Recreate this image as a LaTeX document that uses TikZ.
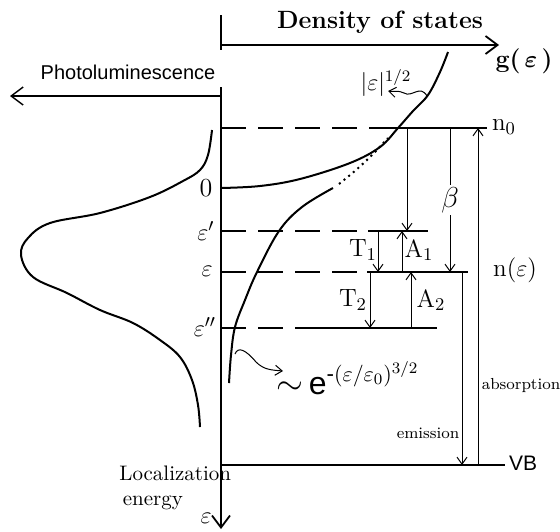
\documentclass[tikz,border=0pt]{standalone}
\usepackage{amsmath,amssymb}
\usepackage{fontspec}
\newfontfamily\sansfam{Liberation Sans}
\usetikzlibrary{arrows.meta}

\tikzset{
  nivel/.style={line width=0.9pt, dash pattern=on 12.5pt off 6pt},
  solido/.style={line width=0.9pt},
  trans/.style={line width=0.5pt, ->},
  curva/.style={line width=1pt},
  ejeflecha/.style={line width=0.9pt, -{Straight Barb[length=6pt,width=9pt]}},
  etq/.style={inner sep=1pt, font=\fontsize{12.5}{14}\selectfont},
  etqs/.style={inner sep=1pt, font=\fontsize{8}{9}\selectfont},
}

\begin{document}
\begin{tikzpicture}[x=0.5pt, y=-0.5pt, >={Straight Barb[length=3.5pt,width=5pt]}]
  \useasboundingbox (0,0) rectangle (560,531);

  % ejes
  \coordinate (ejeTop) at (221,15);
  \coordinate (ejeA) at (221,50);
  \coordinate (ejeB) at (221,87);
  \coordinate (ejeBot) at (221,529);
  \coordinate (dosB) at (499,45);
  \coordinate (plB) at (10,96);
  \draw[solido] (ejeTop) -- (ejeA);
  \draw[ejeflecha] (ejeB) -- (ejeBot);
  \draw[ejeflecha] (ejeTop |- dosB) -- (dosB);
  \draw[ejeflecha, line width=0.7pt] (ejeB |- plB) -- (plB);
  \node[font=\fontsize{12.5}{14}\bfseries] (dos) at (380,22) {Density of states};
  \node[font=\fontsize{12.5}{14}\bfseries] (g) at (524,61) {g(\,$\boldsymbol{\varepsilon}$\,)};
  \node[font=\sansfam\fontsize{10}{12}\selectfont] (pl) at (128,72) {Photoluminescence};
  \node[inner sep=1pt, font=\fontsize{10.5}{12.5}\selectfont, align=left, anchor=west] (loc) at (117,488) {Localization\\ \,energy};
  \node[etq, font=\fontsize{13}{14}\selectfont] (eps) at (206,518) {$\varepsilon$};

  % niveles
  \coordinate (n0L) at (221,128);  \coordinate (n0M) at (370,128);  \coordinate (n0R) at (487,128);
  \coordinate (e1L) at (221,231);  \coordinate (e1M) at (368,231);  \coordinate (e1R) at (428,231);
  \coordinate (e0L) at (221,272);  \coordinate (e0M) at (367,272);  \coordinate (e0R) at (468,272);
  \coordinate (e2L) at (221,328);  \coordinate (e2M) at (320,328);  \coordinate (e2R) at (437,328);
  \coordinate (vbL) at (221,465);  \coordinate (vbR) at (505,465);
  \draw[nivel] (n0L) -- (n0M);  \draw[solido] (n0M) -- (n0R);
  \draw[nivel] (e1L) -- (e1M);  \draw[solido] (e1M) -- (e1R);
  \draw[nivel] (e0L) -- (e0M);  \draw[solido] (e0M) -- (e0R);
  \draw[nivel] (e2L) -- (e2M);  \draw[solido] (e2M) -- (e2R);
  \draw[solido] (vbL) -- (vbR);

  % etiquetas del eje
  \node[etq, font=\fontsize{13}{14}\selectfont] (lz) at (206,188) {0};
  \node[etq, font=\fontsize{13}{14}\selectfont] (l1) at (206,231) {$\varepsilon'$};
  \node[etq, font=\fontsize{13}{14}\selectfont] (l0) at (207,271) {$\varepsilon$};
  \node[etq, font=\fontsize{13}{14}\selectfont] (l2) at (205,327) {$\varepsilon''$};
  \node[etq] (ln0) at (504,127) {n$_0$};
  \node[etq] (lne) at (515,270) {n($\varepsilon$)};
  \node[etq, font=\sansfam\fontsize{10.5}{12}\selectfont] (lvb) at (523,463) {VB};

  % transiciones
  \draw[trans] (407,128) coordinate (a0s) -- (a0s |- e1L);
  \draw[trans] (450,128) coordinate (bs) -- node[fill=white, inner sep=1pt, font=\fontsize{14}{15}\selectfont] (lb) {$\beta$} (bs |- e0L);
  \draw[trans] (478,465) coordinate (abs) -- (abs |- n0L);
  \draw[trans] (462,272) coordinate (ems) -- (ems |- vbL);
  \draw[trans] (378,231) coordinate (t1s) -- (t1s |- e0L);
  \draw[trans] (402,272) coordinate (a1s) -- (a1s |- e1L);
  \draw[trans] (370,272) coordinate (t2s) -- (t2s |- e2L);
  \draw[trans] (411,328) coordinate (a2s) -- (a2s |- e0L);
  \node[etq] (lt1) at (363,250) {T$_1$};
  \node[etq] (la1) at (419,250) {A$_1$};
  \node[etq] (lt2) at (353,300) {T$_2$};
  \node[etq] (la2) at (431,300) {A$_2$};
  \node[etqs] (labs) at (521,385) {absorption};
  \node[etqs] (lem) at (428,433) {emission};

  % densidad de estados
  \draw[curva] plot[smooth, tension=0.6] coordinates {(221,188) (260,186) (300,179) (350,163) (380,147) (398,128) (413,111) (428,95) (440,72) (448,52)};
  \draw[curva] plot[smooth, tension=0.6] coordinates {(229,383) (231,355) (235,327) (245,300) (257,272) (279,231) (302,207) (333,188)};
  \draw[curva, dotted] plot[smooth] coordinates {(339,184) (356,170) (372,155) (388,138)};

  % fotoluminiscencia
  \draw[curva] plot[smooth, tension=0.6] coordinates {(212,130) (208,155) (200,170) (183,181) (150,197) (100,213) (50,223) (28,238) (21,255) (33,277) (67,293) (100,310) (133,323) (160,340) (180,357) (192,380) (198,405) (200,427)};

  % flechas onduladas
  \coordinate (w1s) at (427,96);  \coordinate (w1e) at (388,91);
  \draw[line width=0.5pt, ->] (w1s) .. controls (420,84) and (412,98) .. (404,93) .. controls (398,90) and (394,92) .. (w1e);
  \node[etq, font=\fontsize{12}{14}\selectfont] (lsq) at (386,83) {$|\varepsilon|^{1/2}$};
  \coordinate (w2s) at (235,354);  \coordinate (w2e) at (283,371);
  \draw[line width=0.5pt, ->] (w2s) .. controls (238,346) and (246,350) .. (256,362) .. controls (264,370) and (272,370) .. (w2e);
  \node[etq, font=\sansfam\fontsize{16}{18}\selectfont] (lexp) at (348,378) {$\sim$\,e$^{\text{-}(\varepsilon/\varepsilon_0)^{3/2}}$};
\end{tikzpicture}
\end{document}
